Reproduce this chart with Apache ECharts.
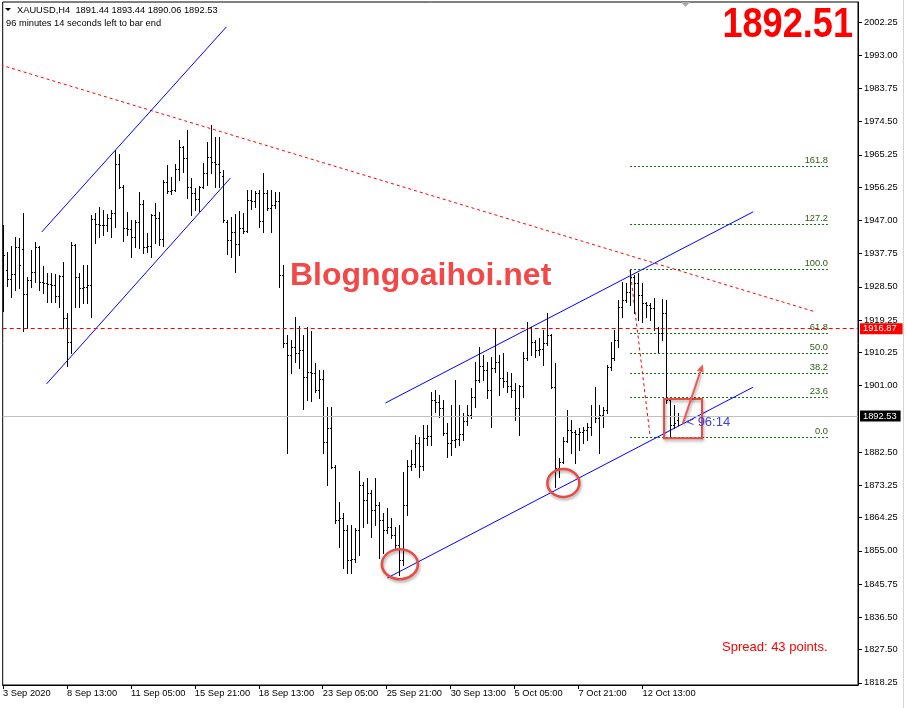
<!DOCTYPE html>
<html><head><meta charset="utf-8">
<script src="https://cdn.jsdelivr.net/npm/echarts@6/dist/echarts.min.js"></script>
<style>html,body{margin:0;padding:0;background:#fff}#c{width:907px;height:708px}</style>
</head><body><div id="c"></div>
<script>
// ---------- DATA (XAUUSD H4) ----------
const opens = [1936.0,1933.2,1930.7,1932.1,1939.6,1939.1,1926.5,1930.4,1932.7,1939.6,
1929.9,1929.6,1929.3,1929.0,1926.0,1931.5,1919.8,1913.2,1940.2,1931.3,
1928.2,1928.5,1929.0,1947.4,1946.0,1945.6,1945.8,1947.7,1949.1,1962.7,
1956.3,1944.9,1944.6,1942.4,1946.6,1951.6,1939.6,1939.9,1948.5,1947.7,
1941.8,1957.8,1955.2,1955.5,1961.3,1967.4,1964.4,1956.3,1954.6,1953.0,
1956.3,1960.2,1964.7,1963.3,1962.7,1959.5,1946.6,1941.6,1943.8,1940.5,
1944.9,1944.1,1952.7,1952.5,1954.6,1946.8,1954.6,1950.5,1951.3,1952.4,
1931.8,1912.9,1909.5,1911.8,1910.1,1910.9,1903.4,1904.8,1904.5,1899.8,
1902.9,1885.3,1889.2,1878.4,1863.6,1864.2,1860.8,1852.5,1852.8,1860.8,
1873.3,1869.2,1871.1,1866.4,1867.8,1863.6,1860.8,1861.7,1859.4,1856.6,
1852.5,1867.8,1878.6,1879.2,1885.0,1878.6,1886.4,1887.0,1897.0,1896.5,
1894.8,1887.8,1885.0,1885.9,1886.2,1887.5,1891.2,1892.8,1897.9,1902.6,
1906.5,1905.4,1899.8,1905.9,1907.6,1903.1,1902.2,1900.9,1899.8,1894.8,
1900.9,1908.7,1917.1,1913.2,1910.9,1911.2,1912.9,1915.1,1900.6,1878.1,
1879.7,1885.6,1888.7,1888.1,1887.5,1888.0,1888.6,1889.5,1892.6,1892.0,
1892.8,1894.2,1906.2,1908.7,1913.7,1922.9,1924.9,1927.1,1931.3,1929.6,
1926.2,1924.0,1923.5,1922.6,1917.1,1915.7,1921.2,1897.0,1890.0,1891.44];
const highs = [1945.7,1938.2,1939.9,1942.4,1942.1,1949.1,1931.3,1938.8,1941.0,1939.9,
1934.3,1932.4,1932.4,1932.1,1931.8,1935.4,1921.2,1941.0,1940.5,1932.4,
1934.6,1934.6,1948.5,1949.1,1950.7,1949.9,1948.8,1949.9,1966.6,1965.5,
1956.8,1949.3,1947.1,1947.1,1954.9,1952.7,1943.5,1948.8,1951.9,1949.3,
1958.3,1962.4,1959.1,1962.7,1969.4,1967.8,1972.2,1958.8,1956.0,1956.6,
1963.0,1968.8,1973.6,1970.2,1970.2,1961.0,1947.1,1947.9,1948.8,1949.6,
1949.1,1955.5,1955.5,1955.2,1955.5,1960.2,1955.5,1955.5,1954.9,1954.9,
1934.6,1915.1,1913.7,1920.1,1917.6,1915.1,1917.3,1916.2,1907.3,1905.4,
1905.4,1895.1,1895.1,1879.0,1868.6,1865.6,1862.2,1862.2,1861.4,1877.3,
1874.2,1875.3,1872.0,1875.3,1868.5,1865.6,1867.0,1864.2,1861.7,1862.2,
1877.0,1880.3,1883.1,1887.3,1886.7,1890.1,1890.1,1899.2,1899.8,1898.4,
1897.0,1890.6,1895.6,1902.6,1895.6,1893.4,1895.6,1900.4,1907.6,1911.8,
1909.5,1907.6,1909.0,1917.1,1909.5,1910.1,1904.8,1904.5,1901.8,1901.2,
1910.4,1918.7,1917.3,1913.7,1914.3,1916.5,1921.2,1915.5,1907.3,1880.9,
1886.7,1894.2,1891.5,1888.7,1889.2,1889.5,1890.6,1895.6,1900.6,1895.6,
1895.1,1906.8,1913.2,1916.5,1924.9,1929.9,1929.6,1933.2,1931.8,1932.4,
1929.6,1924.3,1924.0,1925.4,1917.3,1925.1,1924.9,1897.3,1895.6,1893.44];
const lows = [1921.8,1928.8,1925.7,1927.6,1928.2,1916.2,1917.1,1928.5,1929.9,1927.6,
1926.8,1924.3,1924.3,1924.3,1922.9,1917.1,1906.5,1910.1,1922.9,1922.9,
1924.0,1924.0,1920.1,1940.7,1942.4,1943.0,1944.1,1942.4,1945.2,1956.0,
1941.3,1943.0,1936.8,1939.6,1939.3,1937.9,1938.2,1936.8,1940.7,1940.2,
1939.9,1954.6,1954.4,1955.2,1958.3,1960.5,1953.3,1948.5,1949.9,1949.6,
1956.0,1956.9,1960.2,1956.3,1956.3,1946.6,1937.7,1936.8,1932.7,1937.4,
1943.5,1943.8,1950.2,1950.7,1945.2,1943.8,1949.9,1943.8,1950.5,1928.5,
1911.8,1882.3,1904.5,1907.6,1905.9,1894.5,1897.0,1896.7,1899.2,1897.6,
1882.3,1873.3,1878.1,1862.8,1856.1,1850.3,1848.9,1848.9,1851.9,1853.9,
1861.7,1862.8,1858.9,1862.2,1853.0,1854.4,1860.0,1858.6,1855.3,1848.3,
1851.1,1865.0,1877.5,1878.4,1875.6,1877.5,1884.5,1884.5,1893.7,1892.3,
1887.3,1881.1,1881.7,1883.9,1884.5,1885.9,1890.1,1892.0,1895.1,1902.0,
1902.6,1897.6,1889.5,1904.8,1898.4,1900.6,1899.2,1897.9,1891.5,1887.3,
1897.9,1908.2,1909.5,1909.0,1909.5,1906.8,1912.3,1900.3,1872.8,1875.6,
1879.5,1885.3,1882.3,1879.5,1883.1,1885.0,1885.9,1887.3,1890.9,1882.3,
1889.5,1893.4,1905.4,1908.2,1911.8,1920.1,1924.3,1923.5,1921.2,1919.3,
1918.7,1920.1,1919.3,1916.5,1910.4,1913.7,1896.2,1886.7,1889.2,1890.06];
const closes = [1937.4,1930.7,1932.1,1939.6,1934.6,1926.5,1930.4,1932.7,1939.6,1929.9,
1929.6,1929.3,1929.0,1926.0,1931.5,1919.8,1913.2,1940.2,1931.3,1928.2,
1928.5,1929.0,1947.4,1946.0,1945.6,1945.8,1947.7,1949.1,1962.7,1956.3,
1944.9,1944.6,1942.4,1946.6,1951.6,1939.6,1939.9,1948.5,1947.7,1941.8,
1957.8,1955.2,1955.5,1961.3,1967.4,1964.4,1956.3,1954.6,1953.0,1956.3,
1960.2,1964.7,1963.3,1962.7,1960.5,1947.1,1941.6,1943.8,1940.5,1944.9,
1944.1,1952.7,1952.5,1954.6,1946.8,1954.6,1950.5,1951.3,1952.4,1931.8,
1912.9,1909.5,1911.8,1910.1,1910.9,1903.4,1904.8,1904.5,1899.8,1902.9,
1885.3,1889.2,1878.4,1863.6,1864.2,1860.8,1852.5,1852.8,1860.8,1873.3,
1869.2,1871.1,1866.4,1867.8,1863.6,1860.8,1861.7,1859.4,1856.6,1852.5,
1867.8,1878.6,1879.2,1885.0,1878.6,1886.4,1887.0,1897.0,1896.5,1894.8,
1887.8,1885.0,1885.9,1886.2,1887.5,1891.2,1892.8,1897.9,1902.6,1906.5,
1905.4,1899.8,1905.9,1907.6,1903.1,1902.2,1900.9,1899.8,1894.8,1900.9,
1908.7,1917.1,1913.2,1910.9,1911.2,1912.9,1915.1,1900.6,1878.1,1879.7,
1885.6,1888.7,1888.1,1887.5,1888.0,1888.6,1889.5,1892.6,1892.0,1892.8,
1894.2,1906.2,1908.7,1913.7,1922.9,1924.9,1927.1,1931.3,1929.6,1926.2,
1924.0,1923.5,1922.6,1917.1,1915.7,1921.2,1897.0,1890.0,1890.6,1892.53];

const timeLabels = ['3 Sep 2020','8 Sep 13:00','11 Sep 05:00','15 Sep 21:00','18 Sep 13:00','23 Sep 05:00',
  '25 Sep 21:00','30 Sep 13:00','5 Oct 05:00','7 Oct 21:00','12 Oct 13:00'];
const timeLabelBars = [0,16,32,48,64,80,96,112,128,144,160];
const priceTicks = [2002.25,1993.00,1983.75,1974.50,1965.25,1956.25,1947.00,1937.75,1928.50,1919.25,
  1910.25,1901.00,1882.50,1873.25,1864.25,1855.00,1845.75,1836.50,1827.50,1818.25];

const lastPrice = 1892.53;
const levelPrice = 1916.87;
const bigQuote = '1892.51';
const fibLow = 1886.8, fibHigh = 1933.4;
const fibRatios = [0, 23.6, 38.2, 50, 61.8, 100, 127.2, 161.8];
const fibFromBar = 156.9, fibToBar = 206.4;
const fibDiag = [[156.9,1933.2],[161.9,1887.0]];
// trend / channel lines: [bar, price] end points
const channelUpLeftTop = [[9.7,1943.8],[55.9,2000.9]];
const channelUpLeftBot = [[10.9,1901.5],[56.9,1958.8]];
const channelMainTop = [[95.7,1896.2],[187.7,1949.4]];
const channelMainBot = [[96.2,1847.5],[187.7,1900.6]];
const redTrend = [[-0.6,1990.3],[203.4,1921.5]];
// hand-drawn marks, anchored at [bar, price]
const circleMarks = [[99.3,1851.3],[140.2,1873.9]];
const boxMark = [[165.4,1897.3],[174.9,1886.4]];
const arrowMark = [[170.1,1890.5],[175.1,1907.0]];
const countdownAt = [171.0,1890.8];
const countdownText = '< 96:14';

// ---------- CHART ----------
const FONT = '"Liberation Sans", Arial, sans-serif';
const Y_MIN = 1817.673, Y_MAX = 2007.818;
const X_MIN = -0.075, X_MAX = 213.925;
const ohlc = opens.map((o, i) => [i, o, closes[i], lows[i], highs[i]]);

function renderBar(params, api) {
  const i = api.value(0);
  const pO = api.coord([i, api.value(1)]);
  const pC = api.coord([i, api.value(2)]);
  const pL = api.coord([i, api.value(3)]);
  const pH = api.coord([i, api.value(4)]);
  const x = Math.round(pH[0]) + 0.5;
  const yO = Math.round(pO[1]) + 0.5, yC = Math.round(pC[1]) + 0.5;
  const st = {stroke: '#000', lineWidth: 1};
  return {type: 'group', children: [
    {type: 'line', shape: {x1: x, y1: Math.round(pH[1]), x2: x, y2: Math.round(pL[1]) + 1}, style: st},
    {type: 'line', shape: {x1: x - 1.5, y1: yO, x2: x, y2: yO}, style: st},
    {type: 'line', shape: {x1: x, y1: yC, x2: x + 1.5, y2: yC}, style: st}
  ]};
}

function renderFib(params, api) {
  const r = api.value(0), p = api.value(1);
  const a = api.coord([fibFromBar, p]), b = api.coord([fibToBar, p]);
  const y = Math.round(a[1]) + 0.5;
  return {type: 'group', children: [
    {type: 'line', shape: {x1: a[0], y1: y, x2: b[0], y2: y}, style: {stroke: '#0a6a0a', lineWidth: 1, lineDash: [2, 2]}},
    {type: 'text', style: {x: b[0], y: y - 2, text: r.toFixed(1), fill: '#2f5a18', font: '9.3px ' + FONT, align: 'right', verticalAlign: 'bottom'}}
  ]};
}

function renderMarks(params, api) {
  const red = '#ea4a44';
  const shadow = {shadowColor: 'rgba(0,0,0,0.35)', shadowBlur: 3, shadowOffsetX: 1, shadowOffsetY: 2};
  const kids = [];
  circleMarks.forEach((c, k) => {
    const p = api.coord(c);
    kids.push({type: 'ellipse', shape: {cx: p[0], cy: p[1], rx: k === 0 ? 18 : 16, ry: k === 0 ? 15 : 14},
      style: Object.assign({fill: 'none', stroke: red, lineWidth: 2.5}, shadow)});
  });
  const b1 = api.coord(boxMark[0]), b2 = api.coord(boxMark[1]);
  kids.push({type: 'rect', shape: {x: b1[0], y: b1[1], width: b2[0] - b1[0], height: b2[1] - b1[1]},
    style: Object.assign({fill: 'none', stroke: red, lineWidth: 2}, shadow)});
  const a1 = api.coord(arrowMark[0]), a2 = api.coord(arrowMark[1]);
  const ang = Math.atan2(a2[1] - a1[1], a2[0] - a1[0]);
  const hl = 8, hw = 3.5;
  const bx = a2[0] - hl * Math.cos(ang), by = a2[1] - hl * Math.sin(ang);
  kids.push({type: 'line', shape: {x1: a1[0], y1: a1[1], x2: bx, y2: by}, style: Object.assign({stroke: '#f05a55', lineWidth: 2}, shadow)});
  kids.push({type: 'polygon', shape: {points: [[a2[0], a2[1]],
      [bx + hw * Math.sin(ang), by - hw * Math.cos(ang)], [bx - hw * Math.sin(ang), by + hw * Math.cos(ang)]]},
    style: {fill: '#f05a55'}});
  const t = api.coord(countdownAt);
  kids.push({type: 'text', style: {x: t[0], y: t[1], text: countdownText, fill: '#3d3ddc', font: '13px ' + FONT, align: 'left', verticalAlign: 'middle'}});
  return {type: 'group', children: kids};
}

function lineSeries(pts, color, dash) {
  return {type: 'line', data: pts, symbol: 'none', silent: true, animation: false, z: 3,
    lineStyle: {color: color, width: 1, type: dash || 'solid'}};
}

const chart = echarts.init(document.getElementById('c'), null, {renderer: 'canvas'});
chart.setOption({
  animation: false,
  backgroundColor: '#fff',
  grid: {left: 2, right: 49, top: 2, bottom: 23, show: true, borderColor: '#000', borderWidth: 1, backgroundColor: 'transparent'},
  xAxis: {
    type: 'value', min: X_MIN, max: X_MAX,
    axisLine: {show: true, onZero: false, lineStyle: {color: '#000'}},
    splitLine: {show: false},
    axisTick: {show: true, length: 4, customValues: timeLabelBars, lineStyle: {color: '#000'}},
    axisLabel: {customValues: timeLabelBars, formatter: v => timeLabels[timeLabelBars.indexOf(v)],
      align: 'left', margin: 4, color: '#000', fontFamily: FONT, fontSize: 9.3, hideOverlap: false}
  },
  yAxis: {
    type: 'value', position: 'right', min: Y_MIN, max: Y_MAX, scale: true,
    axisLine: {show: true, onZero: false, lineStyle: {color: '#000'}},
    splitLine: {show: false},
    axisTick: {show: true, length: 4, customValues: priceTicks, lineStyle: {color: '#000'}},
    axisLabel: {customValues: priceTicks, formatter: v => v.toFixed(2), margin: 6,
      color: '#000', fontFamily: FONT, fontSize: 9.3, hideOverlap: false}
  },
  series: [
    lineSeries(redTrend, '#ff0000', [3, 3]),
    lineSeries(channelUpLeftTop, '#0000ff'),
    lineSeries(channelUpLeftBot, '#0000ff'),
    lineSeries(channelMainTop, '#0000ff'),
    lineSeries(channelMainBot, '#0000ff'),
    lineSeries(fibDiag, '#ff0000', [3, 3]),
    {type: 'custom', name: 'fibo', data: fibRatios.map(r => [r, fibLow + (fibHigh - fibLow) * r / 100]),
      renderItem: renderFib, silent: true, z: 2, encode: {x: -1, y: 1}, clip: false},
    {type: 'custom', name: 'XAUUSD,H4', data: ohlc, renderItem: renderBar, silent: true, z: 4,
      encode: {x: 0, y: [1, 2, 3, 4]},
      markLine: {silent: true, symbol: 'none', animation: false,
        data: [
          {yAxis: lastPrice, lineStyle: {color: '#c0c0c0', type: 'solid', width: 1},
            label: {show: true, position: 'end', distance: 2, formatter: lastPrice.toFixed(2), color: '#fff',
              backgroundColor: '#000', padding: [1, 4, 1, 3], fontFamily: FONT, fontSize: 9.3}},
          {yAxis: levelPrice, lineStyle: {color: '#ff0000', type: [4, 3], width: 1},
            label: {show: true, position: 'end', distance: 2, formatter: levelPrice.toFixed(2), color: '#fff',
              backgroundColor: '#ff0000', padding: [1, 6, 1, 3], fontFamily: FONT, fontSize: 9.3}}
        ]}},
    {type: 'custom', name: 'marks', data: [[0, 1900]], renderItem: renderMarks, silent: true, z: 6, clip: false}
  ],
  graphic: [
    {type: 'polygon', shape: {points: [[5, 8], [11, 8], [8, 11]]}, style: {fill: '#000'}},
    {type: 'text', x: 17, y: 10, style: {text: 'XAUUSD,H4  1891.44 1893.44 1890.06 1892.53', font: '9.3px ' + FONT, fill: '#000', verticalAlign: 'middle'}},
    {type: 'text', x: 6, y: 23, style: {text: '96 minutes 14 seconds left to bar end', font: '9.3px ' + FONT, fill: '#000', verticalAlign: 'middle'}},
    {type: 'polygon', shape: {points: [[681, 2], [690, 2], [685.5, 7]]}, style: {fill: '#a8a8a8'}},
    {type: 'text', x: 853, y: 25, scaleX: 0.86, style: {text: bigQuote, font: 'bold 42px ' + FONT, fill: '#ff0000', align: 'right', verticalAlign: 'middle'}},
    {type: 'text', x: 290, y: 276, style: {text: 'Blogngoaihoi.net', font: 'bold 32px ' + FONT, fill: '#f24848', verticalAlign: 'middle',
      shadowColor: 'rgba(0,0,0,0.35)', shadowBlur: 3, shadowOffsetX: 2, shadowOffsetY: 3}},
    {type: 'text', x: 722, y: 647, style: {text: 'Spread: 43 points.', font: '13px ' + FONT, fill: '#ff0000', verticalAlign: 'middle'}},
    {type: 'line', shape: {x1: 903.5, y1: 0, x2: 903.5, y2: 708}, style: {stroke: '#d4d4d4', lineWidth: 1}}
  ]
});
</script></body></html>
